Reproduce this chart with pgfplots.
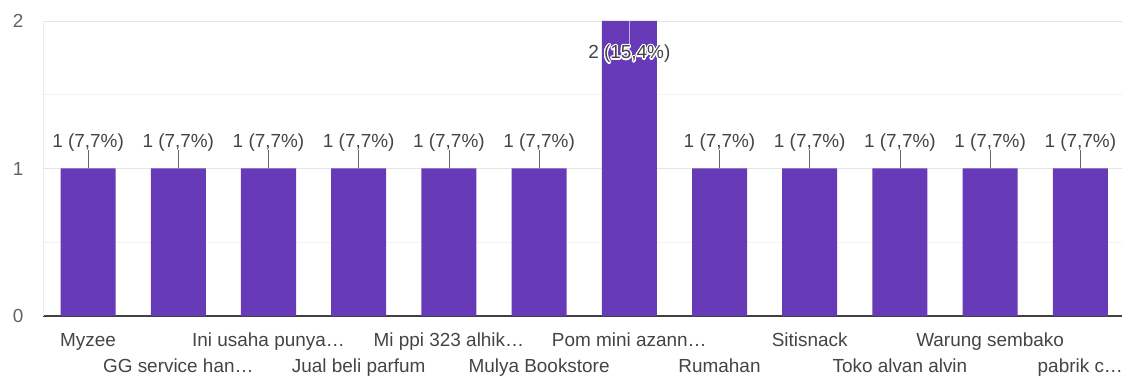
\documentclass[border=0pt]{standalone}
\usepackage{pgfplots}
\pgfplotsset{compat=1.18}
\usepackage{fontspec}
\setmainfont{Liberation Sans}
\usepackage[copies]{contour}
\contourlength{1.3pt}
\definecolor{barp}{HTML}{673AB7}
\definecolor{txt}{HTML}{444444}
\definecolor{tickc}{HTML}{5F6368}
\begin{document}
\begin{tikzpicture}[x=1bp,y=1bp]
\useasboundingbox (0,0) rectangle (1122,376);
\begin{axis}[
  at={(43bp,60bp)}, anchor=south west,
  scale only axis, width=1082.4bp, height=295bp,
  xmin=-0.5, xmax=11.5, ymin=0, ymax=2,
  /pgf/number format/assume math mode=true,
  axis x line*=bottom, axis y line*=left,
  x axis line style={draw=black!75, line width=1.2bp},
  y axis line style={draw=black!8, line width=0.8bp},
  major tick length=0pt, minor tick length=0pt,
  ytick={0,1,2}, yticklabels={0,1,2}, minor y tick num=1,
  ymajorgrids, yminorgrids,
  major grid style={draw=black!10, line width=0.8bp},
  minor grid style={draw=black!5, line width=0.8bp},
  tick label style={font=\fontsize{19}{22}\selectfont, text=tickc},
  yticklabel style={anchor=east, xshift=-16bp},
  xtick={0,2,4,6,8,10},
  xticklabels={Myzee, Ini usaha punya…, Mi ppi 323 alhik…, Pom mini azann…, Sitisnack, Warung sembako},
  extra x ticks={1,3,5,7,9,11},
  extra x tick labels={GG service han…, Jual beli parfum, Mulya Bookstore, Rumahan, Toko alvan alvin, pabrik c…},
  xticklabel style={anchor=base, yshift=-30bp, text=txt},
  extra x tick style={xticklabel style={yshift=-26bp}, grid=none},
]
\addplot[ybar, bar width=0.61, bar shift=0pt, fill=barp, draw=none]
  coordinates {(0,1)(1,1)(2,1)(3,1)(4,1)(5,1)(6,2)(7,1)(8,1)(9,1)(10,1)(11,1)};
% leader lines
\addplot[draw=none, mark=none, error bars/.cd, y dir=plus, y explicit, error mark=none,
  error bar style={draw=black!60, line width=0.8bp}]
  coordinates {(0,1) +- (0,0.125) (1,1) +- (0,0.125) (2,1) +- (0,0.125) (3,1) +- (0,0.125)
               (4,1) +- (0,0.125) (5,1) +- (0,0.125) (7,1) +- (0,0.125) (8,1) +- (0,0.125)
               (9,1) +- (0,0.125) (10,1) +- (0,0.125) (11,1) +- (0,0.125)};
\addplot[draw=none, mark=none, error bars/.cd, y dir=minus, y explicit, error mark=none,
  error bar style={draw=white!60!barp, line width=0.8bp}]
  coordinates {(6,2) +- (0,0.155)};
% value labels
\addplot[draw=none, mark=none, nodes near coords={1 (7,7\%)},
  every node near coord/.append style={anchor=base, yshift=21bp, text=txt, font=\fontsize{19}{22}\selectfont}]
  coordinates {(0,1)(1,1)(2,1)(3,1)(4,1)(5,1)(7,1)(8,1)(9,1)(10,1)(11,1)};
\addplot[draw=none, mark=none, nodes near coords={\contour{white}{2 (15,4\%)}},
  every node near coord/.append style={anchor=base, yshift=-38bp, text=txt, font=\fontsize{19}{22}\selectfont}]
  coordinates {(6,2)};
\end{axis}
\end{tikzpicture}
\end{document}
